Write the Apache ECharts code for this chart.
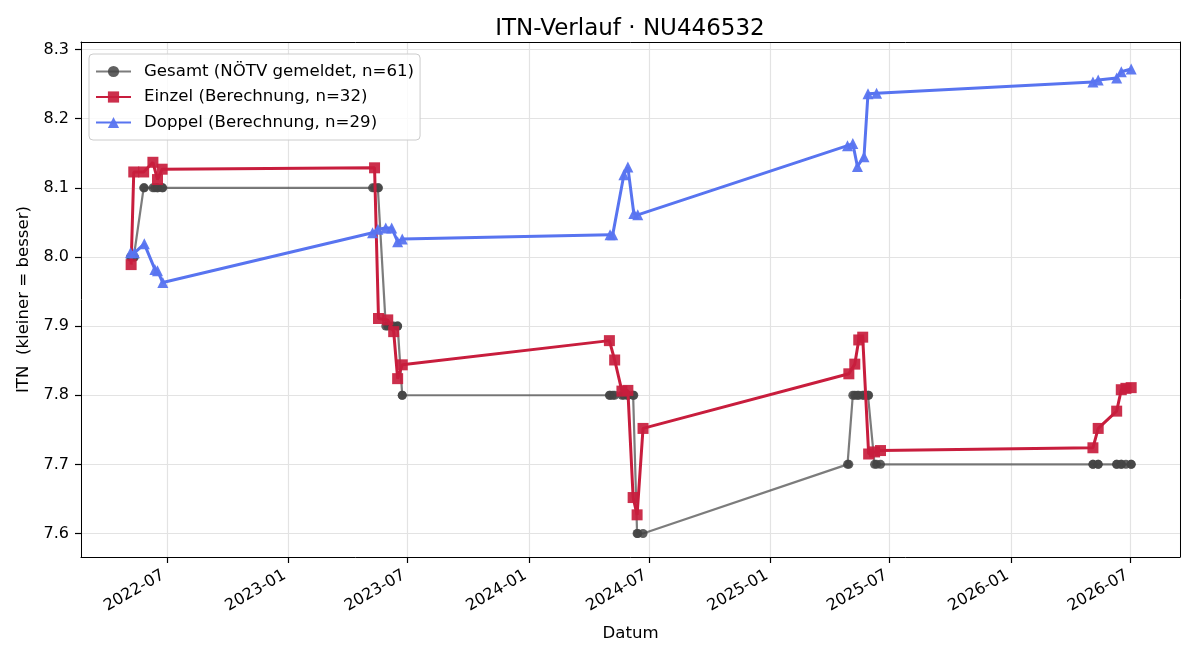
<!DOCTYPE html>
<html>
<head>
<meta charset="utf-8">
<title>ITN-Verlauf</title>
<script src="https://cdn.jsdelivr.net/npm/echarts@6/dist/echarts.min.js"></script>
<style>
  html, body { margin: 0; padding: 0; background: #fff; }
  #main { width: 1200px; height: 660px; }
</style>
</head>
<body>
<div id="main"></div>
<script>
// Gesamt (NÖTV gemeldet)
var gesamtDates = [
  '2022-05-07','2022-05-08','2022-05-12','2022-05-13','2022-05-27','2022-05-28',
  '2022-06-10','2022-06-13','2022-06-17','2022-06-17','2022-06-24','2022-06-25',
  '2023-05-09','2023-05-12','2023-05-17','2023-05-18','2023-05-29','2023-06-01',
  '2023-06-07','2023-06-10','2023-06-16','2023-06-16','2023-06-23','2023-06-23',
  '2024-05-02','2024-05-03','2024-05-07','2024-05-10','2024-05-21','2024-05-24',
  '2024-05-30','2024-05-30','2024-06-07','2024-06-08','2024-06-13','2024-06-14','2024-06-22',
  '2025-04-28','2025-04-30','2025-05-06','2025-05-09','2025-05-13','2025-05-15',
  '2025-05-21','2025-05-23','2025-05-29','2025-05-30','2025-06-08','2025-06-11','2025-06-17',
  '2026-05-05','2026-05-05','2026-05-13','2026-05-13','2026-06-10','2026-06-10',
  '2026-06-17','2026-06-17','2026-06-24','2026-07-02','2026-07-02'
];
var gesamtValues = [
  8.0, 8.0, 8.0, 8.0, 8.1, 8.1,
  8.1, 8.1, 8.1, 8.1, 8.1, 8.1,
  8.1, 8.1, 8.1, 8.1, 7.9, 7.9,
  7.9, 7.9, 7.9, 7.9, 7.8, 7.8,
  7.8, 7.8, 7.8, 7.8, 7.8, 7.8,
  7.8, 7.8, 7.8, 7.8, 7.6, 7.6, 7.6,
  7.7, 7.7, 7.8, 7.8, 7.8, 7.8,
  7.8, 7.8, 7.8, 7.8, 7.7, 7.7, 7.7,
  7.7, 7.7, 7.7, 7.7, 7.7, 7.7,
  7.7, 7.7, 7.7, 7.7, 7.7
];

// Einzel (Berechnung)
var einzelDates = [
  '2022-05-08','2022-05-12','2022-05-27','2022-06-10','2022-06-17','2022-06-24',
  '2023-05-12','2023-05-18','2023-06-01','2023-06-10','2023-06-16','2023-06-23',
  '2024-05-02','2024-05-10','2024-05-21','2024-05-30','2024-06-07','2024-06-13','2024-06-22',
  '2025-04-30','2025-05-09','2025-05-15','2025-05-21','2025-05-30','2025-06-08','2025-06-17',
  '2026-05-05','2026-05-13','2026-06-10','2026-06-17','2026-06-24','2026-07-02'
];
var einzelValues = [
  7.989, 8.123, 8.123, 8.137, 8.112, 8.127,
  8.129, 7.911, 7.909, 7.892, 7.824, 7.844,
  7.879, 7.851, 7.806, 7.807, 7.652, 7.627, 7.752,
  7.831, 7.845, 7.880, 7.884, 7.715, 7.718, 7.720,
  7.724, 7.752, 7.777, 7.808, 7.810, 7.811
];

// Doppel (Berechnung)
var doppelDates = [
  '2022-05-07','2022-05-13','2022-05-28','2022-06-13','2022-06-17','2022-06-25',
  '2023-05-09','2023-05-17','2023-05-29','2023-06-07','2023-06-16','2023-06-23',
  '2024-05-03','2024-05-07','2024-05-24','2024-05-30','2024-06-08','2024-06-14',
  '2025-04-28','2025-05-06','2025-05-13','2025-05-23','2025-05-29','2025-06-11',
  '2026-05-05','2026-05-13','2026-06-10','2026-06-17','2026-07-02'
];
var doppelValues = [
  8.006, 8.006, 8.019, 7.982, 7.980, 7.963,
  8.035, 8.040, 8.042, 8.042, 8.022, 8.026,
  8.032, 8.032, 8.119, 8.130, 8.063, 8.061,
  8.161, 8.164, 8.131, 8.145, 8.236, 8.237,
  8.253, 8.256, 8.259, 8.268, 8.272
];

function pairs(dates, values) {
  var out = [];
  for (var i = 0; i < dates.length; i++) {
    out.push([dates[i], values[i]]);
  }
  return out;
}

var FONT = 'DejaVu Sans';
var HALF_YEAR = 182.6 * 24 * 3600 * 1000;
var X_MIN = '2022-02-21', X_MAX = '2026-09-14';
var Y_MIN = 7.566, Y_MAX = 8.311;

var chart = echarts.init(document.getElementById('main'));

// plain black line used for the frame (spines)
var spine = { show: true, lineStyle: { color: '#000', width: 1 } };

var option = {
  animation: false,
  backgroundColor: '#fff',
  textStyle: { fontFamily: FONT },
  title: {
    text: 'ITN-Verlauf · NU446532',
    left: 630,
    textAlign: 'center',
    top: 18,
    padding: 0,
    textStyle: { fontFamily: FONT, fontSize: 23, fontWeight: 'normal', color: '#000' }
  },
  legend: {
    orient: 'vertical',
    left: 89,
    top: 54,
    padding: [9, 6, 9, 6],
    itemGap: 8.5,
    itemWidth: 35,
    itemHeight: 14,
    backgroundColor: 'rgba(255,255,255,0.8)',
    borderColor: '#cccccc',
    borderWidth: 1,
    borderRadius: 4,
    textStyle: { fontFamily: FONT, fontSize: 16.6, color: '#000', padding: [0, 0, 0, 8], lineHeight: 17 },
    data: ['Gesamt (NÖTV gemeldet, n=61)', 'Einzel (Berechnung, n=32)', 'Doppel (Berechnung, n=29)']
  },
  grid: {
    left: 81, right: 20, top: 42, bottom: 103,
    containLabel: false
  },
  xAxis: [{
    type: 'time',
    min: X_MIN,
    max: X_MAX,
    minInterval: HALF_YEAR,
    maxInterval: HALF_YEAR,
    name: 'Datum',
    nameLocation: 'middle',
    nameGap: 68,
    nameTextStyle: { fontFamily: FONT, fontSize: 16.6, color: '#000' },
    axisLine: spine,
    axisTick: { show: true, length: 6, lineStyle: { color: '#000', width: 1.2 } },
    axisLabel: {
      rotate: 30,
      margin: 15,
      padding: [0, 4, 0, 0],
      fontFamily: FONT,
      fontSize: 16,
      color: '#000',
      showMinLabel: false,
      showMaxLabel: false,
      formatter: '{yyyy}-{MM}'
    },
    splitLine: { show: true, lineStyle: { color: '#e3e3e3', width: 1.2 } }
  }, {
    type: 'time',
    position: 'top',
    min: X_MIN,
    max: X_MAX,
    axisLine: spine,
    axisTick: { show: false },
    axisLabel: { show: false },
    splitLine: { show: false }
  }],
  yAxis: [{
    type: 'value',
    min: Y_MIN,
    max: Y_MAX,
    splitNumber: 7,
    name: 'ITN  (kleiner = besser)',
    nameLocation: 'middle',
    nameGap: 47,
    nameTextStyle: { fontFamily: FONT, fontSize: 16.6, color: '#000' },
    axisLine: spine,
    axisTick: { show: true, length: 6, lineStyle: { color: '#000', width: 1.2 } },
    axisLabel: {
      fontFamily: FONT,
      fontSize: 16,
      color: '#000',
      margin: 12,
      showMinLabel: false,
      showMaxLabel: false,
      formatter: function (v) { return v.toFixed(1); }
    },
    splitLine: { show: true, lineStyle: { color: '#e3e3e3', width: 1.2 } }
  }, {
    type: 'value',
    position: 'right',
    min: Y_MIN,
    max: Y_MAX,
    axisLine: spine,
    axisTick: { show: false },
    axisLabel: { show: false },
    splitLine: { show: false }
  }],
  series: [
    {
      name: 'Gesamt (NÖTV gemeldet, n=61)',
      type: 'line',
      data: pairs(gesamtDates, gesamtValues),
      symbol: 'circle',
      symbolSize: 9,
      showAllSymbol: true,
      lineStyle: { color: '#444', width: 2.2, opacity: 0.7 },
      itemStyle: { color: '#444', opacity: 0.85 },
      z: 2
    },
    {
      name: 'Einzel (Berechnung, n=32)',
      type: 'line',
      data: pairs(einzelDates, einzelValues),
      symbol: 'rect',
      symbolSize: 11,
      showAllSymbol: true,
      lineStyle: { color: '#c81d3d', width: 3 },
      itemStyle: { color: '#c81d3d', opacity: 0.92 },
      z: 3
    },
    {
      name: 'Doppel (Berechnung, n=29)',
      type: 'line',
      data: pairs(doppelDates, doppelValues),
      symbol: 'triangle',
      symbolSize: 11,
      showAllSymbol: true,
      lineStyle: { color: '#5874f0', width: 3 },
      itemStyle: { color: '#5874f0', opacity: 0.95 },
      z: 4
    }
  ]
};

chart.setOption(option, true);
</script>
</body>
</html>
